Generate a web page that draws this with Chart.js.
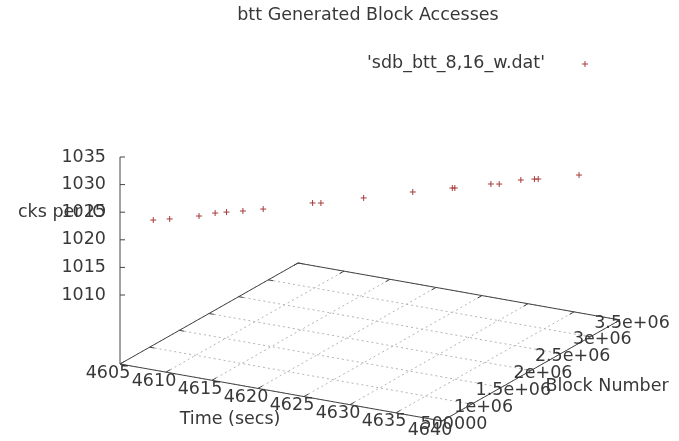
<!DOCTYPE html>
<html>
<head>
<meta charset="utf-8">
<title>btt Generated Block Accesses</title>
<script src="https://cdn.jsdelivr.net/npm/chart.js@4.4.1/dist/chart.umd.min.js"></script>
<style>
  html, body { margin: 0; padding: 0; background: #fff; }
  #plot { display: block; }
</style>
</head>
<body>
<canvas id="plot" width="679" height="441"></canvas>
<script>
// points (time, block number, blocks per IO)
const times = [4608.1, 4609.3, 4611.3, 4612.2, 4613.0, 4614.2, 4615.6, 4618.8, 4619.5, 4622.3,
               4625.5, 4628.2, 4628.4, 4630.8, 4631.5, 4632.7, 4633.7, 4634.0, 4636.8];
const blocks = [580000, 671000, 855000, 987000, 1054000, 1145000, 1270000, 1606000, 1638000, 1924000,
                2256000, 2503000, 2515000, 2750000, 2782000, 2961000, 3035000, 3052000, 3306000];
const blocksPerIO = [1024, 1024, 1024, 1024, 1024, 1024, 1024, 1024, 1024, 1024,
                     1024, 1024, 1024, 1024, 1024, 1024, 1024, 1024, 1024];

const timeTicks = [4605, 4610, 4615, 4620, 4625, 4630, 4635, 4640];
const blockTicks = [500000, 1000000, 1500000, 2000000, 2500000, 3000000, 3500000];
const blockTickLabels = ["500000", "1e+06", "1.5e+06", "2e+06", "2.5e+06", "3e+06", "3.5e+06"];
const zTicks = [1010, 1015, 1020, 1025, 1030, 1035];

const FONT_SIZE = 17.5;
const FONT = FONT_SIZE + 'px "DejaVu Sans"';
const TEXT = "#383838";
const MARK = "#a83a3a";

const tMin = timeTicks[0], tMax = timeTicks[timeTicks.length - 1];
const bMin = blockTicks[0], bMax = blockTicks[blockTicks.length - 1];
const zMin = zTicks[0], zMax = zTicks[zTicks.length - 1];
const zFloor = zMin - 0.5 * (zMax - zMin); // gnuplot ticslevel 0.5

// view: x is pixels across the page, y is in z units (5.52 px each)
const Z_PX = 5.52;
const view = { tx: 322, tz: -57 / Z_PX, bx: 178, bz: 101 / Z_PX };

function project(t, b, z) {
    const u = (t - tMin) / (tMax - tMin);
    const w = (b - bMin) / (bMax - bMin);
    return { x: u * view.tx + w * view.bx, y: z + u * view.tz + w * view.bz };
}

const points = times.map((t, i) => project(t, blocks[i], blocksPerIO[i]));

// keep 1 x unit = 1 px and Z_PX px per z unit whatever the chart area ends up being
const aspectPlugin = {
    id: "aspect",
    afterLayout(chart) {
        const xs = chart.scales.x, ys = chart.scales.y;
        xs.min = 0;
        xs.max = xs.right - xs.left;
        xs.configure();
        ys.max = zMax;
        ys.min = zMax - (ys.bottom - ys.top) / Z_PX;
        ys.configure();
    }
};

const floorPlugin = {
    id: "floor",
    beforeDatasetsDraw(chart) {
        const ctx = chart.ctx;
        const xs = chart.scales.x, ys = chart.scales.y;
        const px = (t, b, z) => {
            const p = project(t, b, z);
            return [xs.getPixelForValue(p.x), ys.getPixelForValue(p.y)];
        };
        const line = (a, c) => {
            ctx.beginPath();
            ctx.moveTo(a[0], a[1]);
            ctx.lineTo(c[0], c[1]);
            ctx.stroke();
        };
        ctx.save();

        // dotted grid on the base
        ctx.strokeStyle = "#b4b4b4";
        ctx.lineWidth = 1;
        ctx.setLineDash([2, 3]);
        timeTicks.forEach(t => line(px(t, bMin, zFloor), px(t, bMax, zFloor)));
        blockTicks.forEach(b => line(px(tMin, b, zFloor), px(tMax, b, zFloor)));

        // border of the base + vertical z axis
        ctx.setLineDash([]);
        ctx.strokeStyle = "#444";
        const c1 = px(tMin, bMin, zFloor), c2 = px(tMax, bMin, zFloor);
        const c3 = px(tMax, bMax, zFloor), c4 = px(tMin, bMax, zFloor);
        ctx.beginPath();
        ctx.moveTo(c1[0], c1[1]);
        ctx.lineTo(c2[0], c2[1]);
        ctx.lineTo(c3[0], c3[1]);
        ctx.lineTo(c4[0], c4[1]);
        ctx.closePath();
        ctx.stroke();
        line(c1, px(tMin, bMin, zMax));

        // tic marks
        const tb = 0.025 * (bMax - bMin), tt = 0.015 * (tMax - tMin);
        timeTicks.forEach(t => {
            line(px(t, bMin, zFloor), px(t, bMin + tb, zFloor));
            line(px(t, bMax, zFloor), px(t, bMax - tb, zFloor));
        });
        blockTicks.forEach(b => {
            line(px(tMax, b, zFloor), px(tMax - tt, b, zFloor));
            line(px(tMin, b, zFloor), px(tMin + tt, b, zFloor));
        });
        zTicks.forEach(z => {
            const p = px(tMin, bMin, z);
            line(p, [p[0] + 5, p[1]]);
        });

        // tic labels and axis titles
        ctx.font = FONT;
        ctx.fillStyle = TEXT;
        ctx.textAlign = "center";
        ctx.textBaseline = "middle";
        timeTicks.forEach(t => {
            const p = px(t, bMin, zFloor);
            ctx.fillText(String(t), p[0] - 12, p[1] + 9);
        });
        blockTicks.forEach((b, i) => {
            const p = px(tMax, b, zFloor);
            ctx.fillText(blockTickLabels[i], p[0] + 12, p[1] + 3);
        });
        ctx.fillText("Time (secs)", 230, 419);
        ctx.fillText("Block Number", 607, 386);

        // z label runs off the left edge in the original
        ctx.save();
        ctx.beginPath();
        ctx.rect(17, 190, 120, 40);
        ctx.clip();
        ctx.textAlign = "left";
        ctx.fillText("Blocks per IO", 18 - ctx.measureText("Blo").width, 212);
        ctx.restore();
        ctx.restore();
    },
    afterDraw(chart) {
        const ctx = chart.ctx;
        ctx.save();
        ctx.font = FONT;
        ctx.fillStyle = TEXT;
        ctx.textBaseline = "middle";
        ctx.textAlign = "center";
        ctx.fillText("btt Generated Block Accesses", 368, 15);
        ctx.textAlign = "right";
        ctx.fillText(chart.data.datasets[0].label, 545, 63);
        // key sample
        ctx.strokeStyle = MARK;
        ctx.lineWidth = 1;
        ctx.beginPath();
        ctx.moveTo(582, 64); ctx.lineTo(588, 64);
        ctx.moveTo(585, 61); ctx.lineTo(585, 67);
        ctx.stroke();
        ctx.restore();
    }
};

new Chart(document.getElementById("plot"), {
    type: "scatter",
    data: {
        datasets: [{
            label: "'sdb_btt_8,16_w.dat'",
            data: points,
            pointStyle: "cross",
            pointRadius: 3,
            pointBorderWidth: 1,
            borderColor: MARK,
            backgroundColor: MARK
        }]
    },
    options: {
        responsive: false,
        animation: false,
        layout: { padding: { top: 157, right: 1, bottom: 0, left: 0 } },
        plugins: {
            legend: { display: false },
            title: { display: false },
            tooltip: { enabled: false }
        },
        scales: {
            x: { type: "linear", display: false, min: 0, max: 558 },
            y: {
                type: "linear",
                min: 980,
                max: 1035,
                border: { display: false },
                grid: { display: false, drawTicks: false },
                afterFit(scale) { scale.width = 120; },
                afterBuildTicks(scale) { scale.ticks = zTicks.map(v => ({ value: v })); },
                ticks: {
                    padding: 14,
                    color: TEXT,
                    font: { family: "DejaVu Sans", size: FONT_SIZE },
                    callback: v => String(v)
                }
            }
        }
    },
    plugins: [aspectPlugin, floorPlugin]
});
</script>
</body>
</html>
